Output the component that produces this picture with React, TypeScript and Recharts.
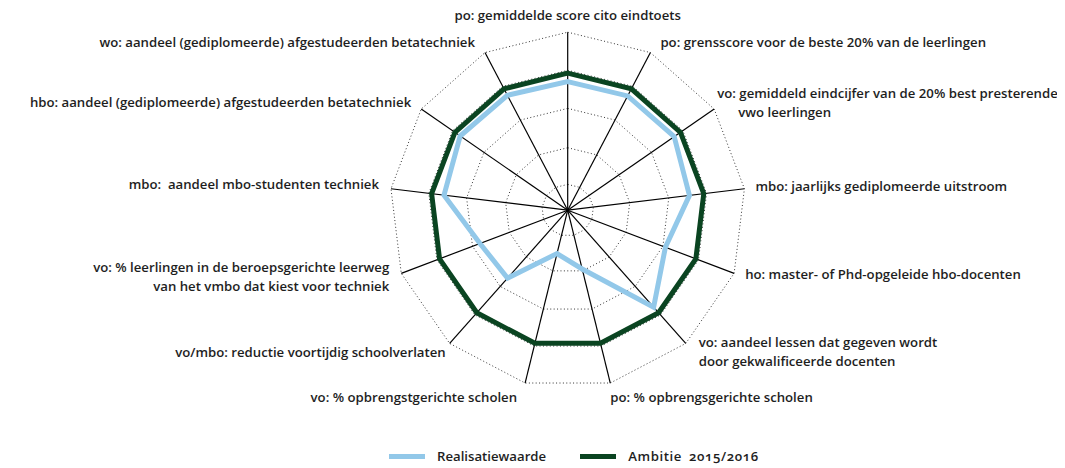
import React from 'react'
import { RadarChart, Radar, PolarGrid, PolarAngleAxis, PolarRadiusAxis, Legend } from 'recharts'

// 13 indicators, clockwise from the top
const CATEGORIES = [
  'po: gemiddelde score cito eindtoets',
  'po: grensscore voor de beste 20% van de leerlingen',
  'vo: gemiddeld eindcijfer van de 20% best presterende\nvwo leerlingen',
  'mbo: jaarlijks gediplomeerde uitstroom',
  'ho: master- of Phd-opgeleide hbo-docenten',
  'vo: aandeel lessen dat gegeven wordt\ndoor gekwalificeerde docenten',
  'po: % opbrengsgerichte scholen',
  'vo: % opbrengstgerichte scholen',
  'vo/mbo: reductie voortijdig schoolverlaten',
  'vo: % leerlingen in de beroepsgerichte leerweg\nvan het vmbo dat kiest voor techniek',
  'mbo:  aandeel mbo-studenten techniek',
  'hbo: aandeel (gediplomeerde) afgestudeerden betatechniek',
  'wo: aandeel (gediplomeerde) afgestudeerden betatechniek',
]
const SERIES = ['Realisatiewaarde', 'Ambitie 2015/2016']
const REALISATIE = [72.2, 72.5, 72.7, 68.9, 58.7, 72.8, 34, 25.1, 51, 52.7, 70, 73.4, 72.9]
const AMBITIE = [77, 77, 77, 77, 77, 77, 77, 77, 77, 77, 77, 77, 77]
const RING_TICKS = [14.5, 35.1, 57.2, 78.6, 100]

const W = 1049
const H = 464
const CX = 559.7
const CY = 210.2
const R = 178
const FONT = '"Open Sans", sans-serif'
const FS = 13.2
const FW = 600
const TXT = '#1e1e1e'
const BLUE = '#92c8e9'
const GREEN = '#0a4421'

// label anchor + offset from the end of each spoke
const LABEL_POS: { anchor: 'start' | 'middle' | 'end'; dx: number; dy: number; indent?: number }[] = [
  { anchor: 'middle', dx: 0, dy: -17 },
  { anchor: 'start', dx: 10, dy: -10 },
  { anchor: 'start', dx: 3, dy: -16, indent: 21 },
  { anchor: 'start', dx: 11, dy: -2 },
  { anchor: 'start', dx: 11, dy: 1 },
  { anchor: 'start', dx: 13, dy: -1 },
  { anchor: 'start', dx: 0, dy: 14 },
  { anchor: 'end', dx: -8, dy: 14 },
  { anchor: 'end', dx: -4, dy: 9 },
  { anchor: 'end', dx: -12, dy: -6 },
  { anchor: 'end', dx: -12, dy: -4 },
  { anchor: 'end', dx: -10, dy: -7 },
  { anchor: 'end', dx: -10, dy: -10 },
]

const data = CATEGORIES.map((label, i) => ({
  label,
  [SERIES[0]]: REALISATIE[i],
  [SERIES[1]]: AMBITIE[i],
}))

function AngleTick(props: any) {
  const { payload } = props
  const idx = props.index ?? CATEGORIES.indexOf(payload.value)
  const a = (payload.coordinate * Math.PI) / 180
  const ex = CX + R * Math.cos(a)
  const ey = CY - R * Math.sin(a)
  const p = LABEL_POS[idx]
  const lines = String(payload.value).split('\n')
  const x = ex + p.dx
  return (
    <text
      x={x}
      y={ey + p.dy}
      textAnchor={p.anchor}
      fontSize={FS}
      fontWeight={FW}
      fontFamily={FONT}
      fill={TXT}
      style={{ whiteSpace: 'pre' }}
    >
      {lines.map((l, i) => (
        <tspan key={i} x={x + (i > 0 ? p.indent ?? 0 : 0)} dy={i === 0 ? '0.35em' : 19}>
          {l}
        </tspan>
      ))}
    </text>
  )
}

function LegendContent(props: any) {
  const items = [...(props.payload ?? [])].sort(
    (a: any, b: any) => SERIES.indexOf(a.value) - SERIES.indexOf(b.value)
  )
  return (
    <div style={{ display: 'flex', alignItems: 'center', paddingLeft: 381, height: 16, fontFamily: FONT, fontSize: FS, fontWeight: FW, color: TXT }}>
      {items.map((it: any, i: number) => (
        <div key={it.value} style={{ display: 'flex', alignItems: 'center', marginLeft: i > 0 ? 34 : 0 }}>
          <div style={{ width: 36, height: 5, background: it.color, marginRight: 12 }} />
          <span style={{ fontVariantNumeric: 'oldstyle-nums', wordSpacing: i > 0 ? 3 : 0, letterSpacing: i > 0 ? 0.6 : 0 }}>{it.value}</span>
        </div>
      ))}
    </div>
  )
}

export default function App() {
  const rings = RING_TICKS.map((t) => (t / 100) * R)
  return (
    <div style={{ marginTop: -8 }}>
      <RadarChart width={W} height={H} data={data} cx={CX} cy={CY} outerRadius={R} margin={{ top: 0, right: 0, bottom: 0, left: 0 }}>
        <PolarGrid gridType="polygon" polarRadius={rings} radialLines={false} stroke="#333" strokeWidth={1} strokeDasharray="1 2.4" />
        <PolarGrid gridType="polygon" polarRadius={[]} stroke="#000" strokeWidth={1.2} />
        <PolarRadiusAxis domain={[0, 100]} ticks={RING_TICKS as any} tick={false} axisLine={false} />
        <PolarAngleAxis dataKey="label" tick={<AngleTick />} tickLine={false} axisLine={false} />
        <Radar name={SERIES[0]} dataKey={SERIES[0]} stroke={BLUE} strokeWidth={5} fill="none" fillOpacity={0} dot={false} isAnimationActive={false} />
        <Radar name={SERIES[1]} dataKey={SERIES[1]} stroke={GREEN} strokeWidth={5} fill="none" fillOpacity={0} dot={false} isAnimationActive={false} />
        <Legend verticalAlign="bottom" content={<LegendContent />} wrapperStyle={{ left: 0, bottom: 0, width: W }} />
      </RadarChart>
    </div>
  )
}
